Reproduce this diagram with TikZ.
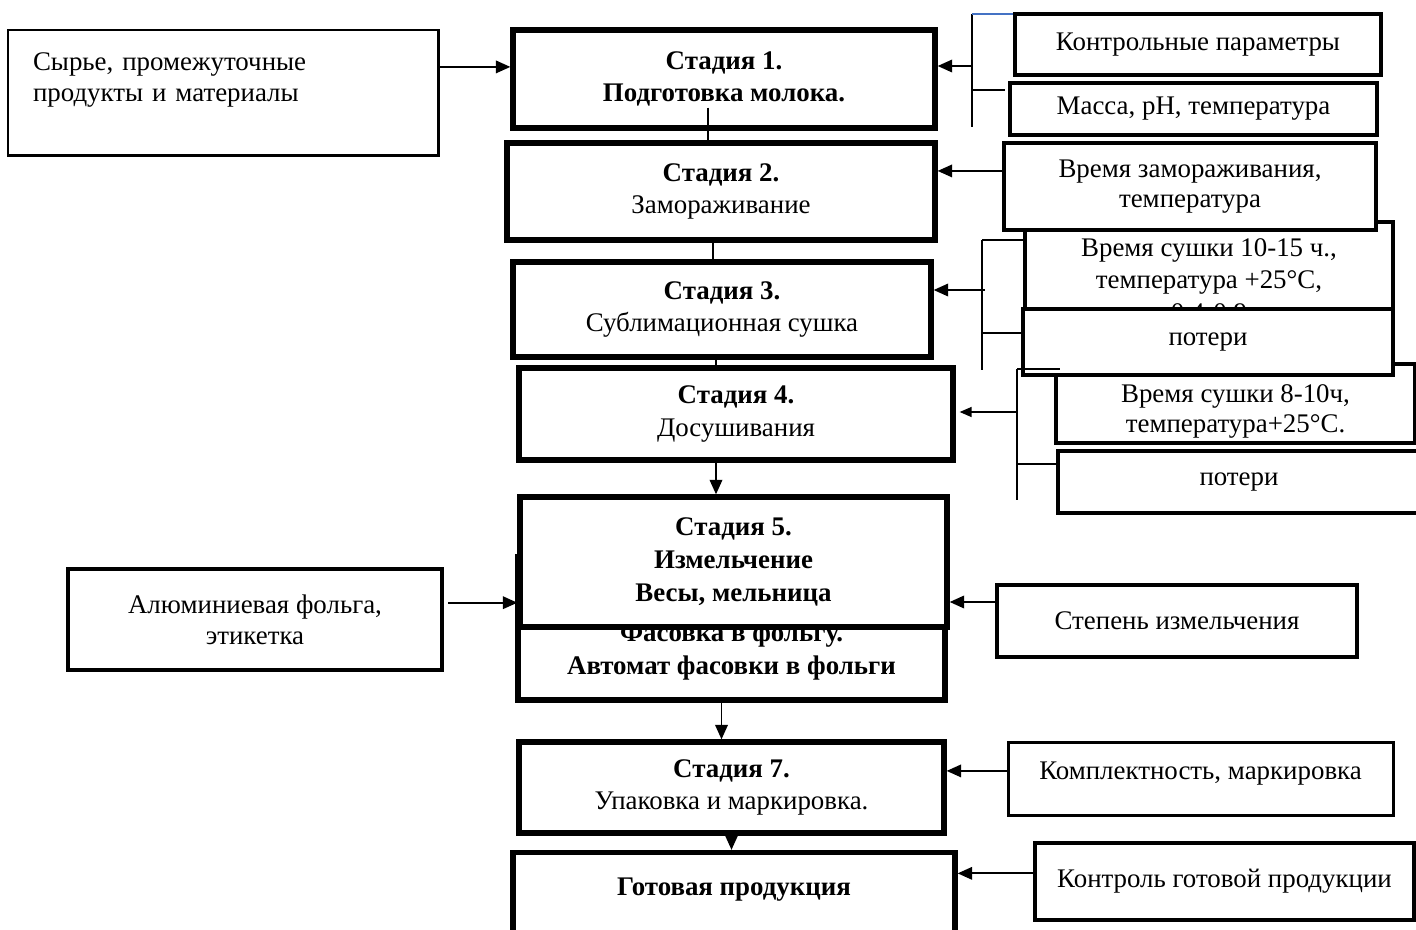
\documentclass[tikz,border=0pt]{standalone}
\usepackage{fontspec}
\setmainfont{Liberation Serif}
\usetikzlibrary{arrows.meta,calc}
\definecolor{ink}{HTML}{000000}
\definecolor{rulebl}{HTML}{4472C4}
\tikzset{
 box/.style={draw=ink,fill=white,align=center,inner sep=4pt,font=\fontsize{15.3}{17.5}\selectfont},
 stage/.style={box,line width=3pt,font=\fontsize{15.3}{18.6}\selectfont},
 param/.style={box,line width=2.6pt},
 thinbox/.style={box,line width=1.7pt},
 arr/.style={-{Triangle[length=2.9mm,width=2.5mm]},line width=1.1pt,draw=ink},
 link/.style={line width=1.1pt,draw=ink},
 brk/.style={line width=0.8pt,draw=ink}}

\begin{document}
\begin{tikzpicture}[x=1cm,y=1cm]
\useasboundingbox (0,0) rectangle (28.32,-18.58);

% left inputs
\node[thinbox,minimum width=8.6cm,minimum height=2.5cm,text width=7.6cm,align=left] (raw) at (4.46,-1.85) {Сырье, промежуточные\\продукты и материалы\\\mbox{}};
\node[param,line width=2.3pt,minimum width=7.48cm,minimum height=2.02cm] (foil) at (5.1,-12.39) {Алюминиевая фольга,\\этикетка};

% stages
\node[stage,minimum width=8.44cm,minimum height=1.96cm] (s1) at (14.48,-1.58) {\textbf{Стадия 1.}\\\textbf{Подготовка молока.}};
\node[stage,minimum width=8.56cm,minimum height=1.94cm] (s2) at (14.42,-3.83) {\textbf{Стадия 2.}\\Замораживание};
\node[stage,minimum width=8.36cm,minimum height=1.9cm] (s3) at (14.44,-6.19) {\textbf{Стадия 3.}\\Сублимационная сушка};
\node[stage,minimum width=8.68cm,minimum height=1.84cm] (s4) at (14.72,-8.28) {\textbf{Стадия 4.}\\Досушивания};
\node[stage,minimum width=8.54cm,minimum height=2.86cm] (s6) at (14.63,-12.57) {\mbox{}\\[18pt]\textbf{Фасовка в фольгу.}\\\textbf{Автомат фасовки в фольги}};
\node[stage,minimum width=8.54cm,minimum height=2.6cm] (s5) at (14.67,-11.24) {\textbf{Стадия 5.}\\\textbf{Измельчение}\\\textbf{Весы, мельница}};
\node[stage,minimum width=8.5cm,minimum height=1.82cm] (s7) at (14.63,-15.75) {\textbf{Стадия 7.}\\Упаковка и маркировка.};
\node[stage,minimum width=8.84cm,minimum height=1.8cm,text depth=0.45cm] (gp) at (14.68,-17.95) {\textbf{Готовая продукция}};

% control parameters
\node[param,line width=2.3pt,minimum width=7.32cm,minimum height=1.22cm] (kp) at (23.96,-0.89) {Контрольные параметры};
\node[param,minimum width=7.34cm,minimum height=1.04cm] (mph) at (23.87,-2.18) {Масса, pH, температура};
\node[param,minimum width=7.36cm,minimum height=2.4cm,font=\fontsize{15.3}{18.6}\selectfont] (vs1) at (24.18,-5.64) {Время сушки 10-15 ч.,\\температура +25°С,\\0,4-0,9};
\node[param,minimum width=7.44cm,minimum height=1.74cm] (vz) at (23.8,-3.73) {Время замораживания,\\температура};
\node[param,minimum width=7.18cm,minimum height=1.58cm] (vs2) at (24.71,-8.07) {\raisebox{-4.5pt}[\height][\depth]{Время сушки 8-10ч,}\\\raisebox{-4.5pt}[\height][\depth]{температура+25°С.}};
\node[param,minimum width=7.4cm,minimum height=1.32cm] (pt1) at (24.16,-6.84) {потери};
\node[param,minimum width=7.24cm,minimum height=1.24cm] (pt2) at (24.78,-9.64) {потери};
\node[param,line width=2.3pt,minimum width=7.2cm,minimum height=1.44cm] (deg) at (23.54,-12.42) {Степень измельчения};
\node[thinbox,minimum width=7.7cm,minimum height=1.46cm] (kompl) at (24.01,-15.57) {\raisebox{2.8pt}[\height][\depth]{Комплектность, маркировка}};
\node[param,minimum width=7.58cm,minimum height=1.54cm] (kgp) at (24.49,-17.63) {Контроль готовой продукции};

% main flow
\coordinate (c12) at ([xshift=-0.32cm,yshift=0.46cm]s1.south);
\draw[link] (c12) -- (c12 |- s2.north);
\coordinate (c23) at ([xshift=-0.16cm]s2.south);
\draw[link] (c23) -- (c23 |- s3.north);
\coordinate (c34) at ([xshift=-0.12cm]s3.south);
\draw[link] (c34) -- (c34 |- s4.north);
\coordinate (c45) at ([xshift=-0.4cm]s4.south);
\draw[arr] (c45) -- (c45 |- s5.north);
\coordinate (c67) at ([xshift=-0.2cm]s6.south);
\draw[arr] (c67) -- (c67 |- s7.north);
\draw[arr] (s7.south) -- (s7.south |- gp.north);

% inputs
\coordinate (a1) at ($(raw.north east)!.3!(raw.south east)$);
\draw[arr] (a1) -- (a1 -| s1.west);
\coordinate (a5) at ($(foil.north east)!.34!(foil.south east)$);
\draw[arr] ([xshift=0.08cm]a5) -- (a5 -| s5.west);

% bracket stage 1
\coordinate (b1t) at (19.44,-0.28);
\coordinate (b1b) at (19.44,-2.54);
\draw[brk] (b1t) -- (b1b);
\draw[line width=0.8pt,draw=rulebl] (b1t) -- (b1t -| kp.west);
\draw[brk] (b1t |- 0,-1.8) -- (20.1,-1.8);
\coordinate (b1m) at (19.44,-1.32);
\draw[arr] (b1m) -- (b1m -| s1.east);

% stage 2
\coordinate (a2) at ($(vz.north west)!.33!(vz.south west)$);
\draw[arr] (a2) -- (a2 -| s2.east);

% bracket stage 3
\coordinate (b3t) at (19.64,-4.8);
\coordinate (b3b) at (19.64,-7.4);
\draw[brk] (b3t) -- (b3b);
\draw[brk] (b3t) -- (b3t -| vs1.west);
\draw[brk] (19.64,-6.66) -- (19.64,-6.66 -| pt1.west);
\coordinate (b3m) at (19.7,-5.8);
\draw[arr] (b3m) -- (b3m -| s3.east);

% bracket stage 4
\coordinate (b4t) at (20.34,-7.38);
\coordinate (b4b) at (20.34,-10.0);
\draw[brk] (b4t) -- (b4b);
\draw[brk] (b4t) -- ++(0.86,0);
\draw[brk] (20.34,-9.28) -- (20.34,-9.28 -| pt2.west);
\coordinate (b4m) at (20.34,-8.24);
\draw[-{Triangle[length=2.4mm,width=2mm]},brk] (b4m) -- ([xshift=0.08cm]b4m -| s4.east);

% stage 5, 7, product
\coordinate (a6) at ($(deg.north west)!.25!(deg.south west)$);
\draw[arr] (a6) -- (a6 -| s5.east);
\coordinate (a7) at ($(kompl.north west)!.4!(kompl.south west)$);
\draw[arr] (a7) -- (a7 -| s7.east);
\coordinate (a8) at ($(kgp.north west)!.4!(kgp.south west)$);
\draw[arr] (a8) -- (a8 -| gp.east);
\end{tikzpicture}
\end{document}
